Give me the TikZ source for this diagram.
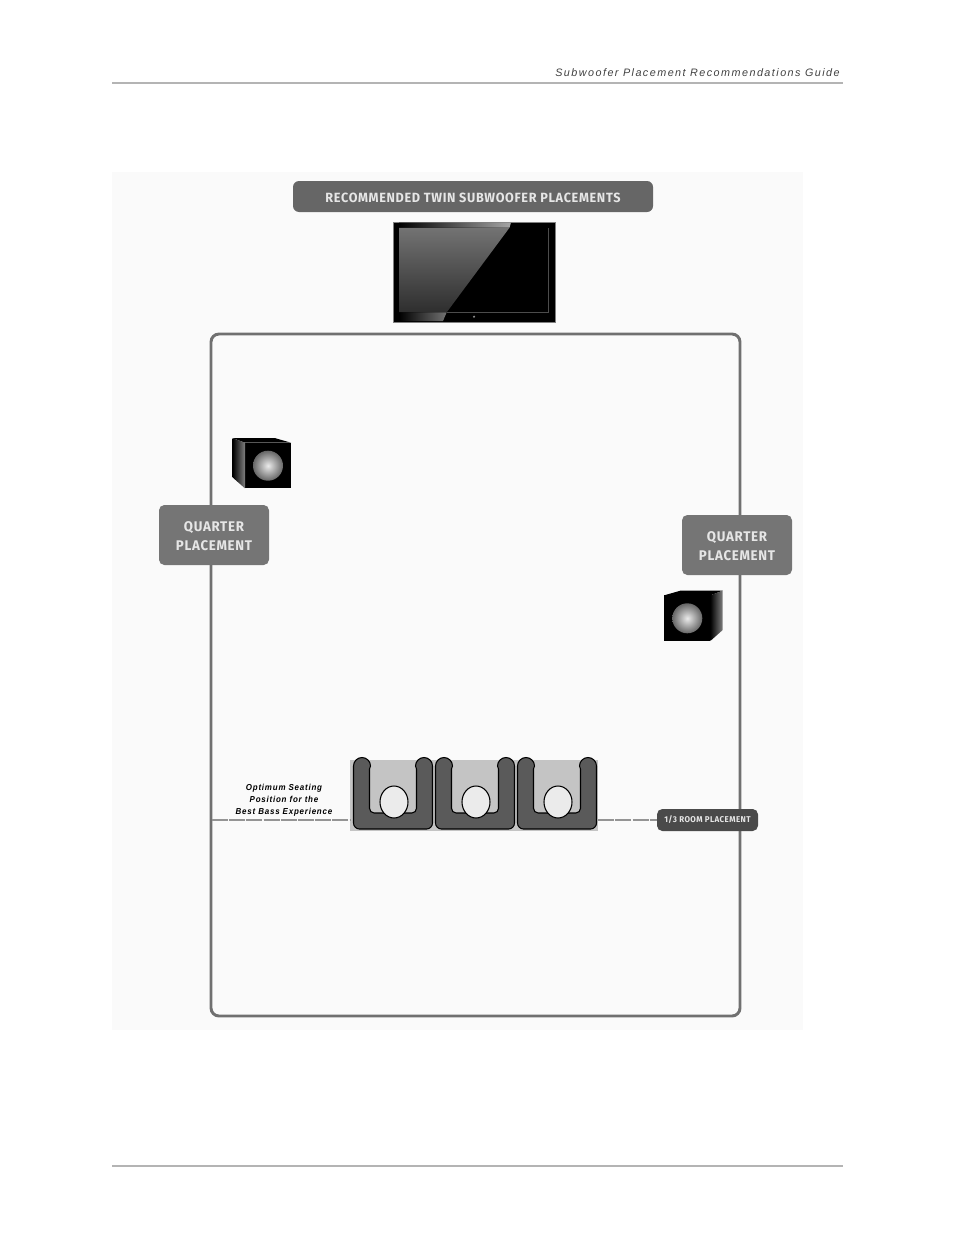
\documentclass[tikz,border=0pt]{standalone}
\usepackage{fontspec}
\setmainfont{Liberation Sans}
\newfontfamily\pagefont[LetterSpace=13.5]{Liberation Sans}
\newfontfamily\pillfont[LetterSpace=5,FakeStretch=0.95]{Fira Sans}
\newfontfamily\notefont[LetterSpace=9,FakeStretch=0.92]{Liberation Sans}
\usetikzlibrary{positioning, shapes.geometric}
\definecolor{panelgray}{HTML}{FAFAFA}
\definecolor{rulegray}{HTML}{B4B4B4}
\definecolor{framegray}{HTML}{707070}
\definecolor{pillgray}{HTML}{757575}
\definecolor{titlegray}{HTML}{666666}
\definecolor{darkpill}{HTML}{4A4A4A}
\definecolor{seatgray}{HTML}{5A5A5A}
\definecolor{rowgray}{HTML}{C4C4C4}
\definecolor{pilltext}{HTML}{E6E6E6}
\newcommand{\lowered}[2]{\raisebox{-#1pt}[\height][\depth]{#2}}
\tikzset{
  room/.style={draw=framegray, line width=2.2pt, rounded corners=6pt, minimum width=396.75pt, minimum height=511.5pt},
  pill/.style={fill=pillgray, text=pilltext, rounded corners=4pt, minimum width=82.5pt, minimum height=45pt, align=center, font=\pillfont\bfseries\fontsize{10.5}{14.2}\selectfont},
  head/.style={ellipse, draw=black, line width=0.8pt, fill=black!8, minimum width=21pt, minimum height=24pt, inner sep=0pt},
  hall/.style={draw=rulegray, line width=1.5pt},
  seat/.pic={
    \draw [line width=0.8pt, fill=seatgray] (-39.5,-36) arc [start angle=180, end angle=360, radius=8.5] -- (-23.5,-33) -- (-23.5,-20) [rounded corners=3.5pt] -- (-23.5,11) -- (23.5,11) -- (23.5,-20) [sharp corners] -- (23.5,-33) -- (22.5,-36) arc [start angle=180, end angle=360, radius=8.5] -- (39.5,-20) [rounded corners=4.5pt] -- (39.5,27) -- (-39.5,27) -- (-39.5,-20) [sharp corners] -- (-39.5,-36);
    \node [head] (-face) at (1,0) {};
  },
  sub/.pic={
    \fill [black] (-23,-23) -- (-7,-27.6) -- (35.4,-27.6) -- (23,-23) -- cycle;
    \fill [black] (-23,-23) rectangle (23,22.7);
    \shade [left color=black, right color=black!50] (23,-23) -- (35.4,-27.6) -- (35.4,11.7) -- (23,22.7) -- cycle;
    \shade [inner color=black!8, outer color=black!60] (0,0) circle [radius=15];
  }
}
\tikzstyle{dashline} = [draw=black!42, line width=0.9pt, dash pattern=on 12pt off 0.9pt]
\begin{document}
\begin{tikzpicture}[x=0.75pt,y=-0.75pt,node distance=61.5pt,every node/.append style={align=center}]
    \useasboundingbox (0,0) rectangle (954,1235);
    \fill [panelgray] (112,172) rectangle (803,1030);
    \node [anchor=east, font=\pagefont\itshape\fontsize{8.1}{10}\selectfont, text=black!75, inner sep=0pt] (guide) at (840,72.5) {Subwoofer Placement Recommendations Guide};
    \coordinate (headl) at (112,83);
    \coordinate (headr) at (843,83);
    \coordinate (footl) at (112,1166);
    \coordinate (footr) at (843,1166);
    \draw [hall] (headl) -- (headr);
    \draw [hall] (footl) -- (footr);
    \node [room] (box) at (475.5,675) {};
    \node [fill=black, draw=black!50, line width=0.4pt, minimum width=121.5pt, minimum height=75pt, inner sep=0pt] (tv) at (474,272.5) {};
    \shade [top color=black!55, bottom color=black!82] (399,227.7) -- (509.5,227.7) -- (446.7,312.3) -- (399,312.3) -- cycle;
    \shade [left color=black, right color=black!35] (399,222.5) -- (511,222.5) -- (509.5,227.7) -- (399,227.7) -- cycle;
    \shade [left color=black, right color=black!55] (399,312.3) -- (446.7,312.3) -- (443,321) -- (399,321) -- cycle;
    \draw [black!70, line width=0.4pt] (446.7,312.3) -- (548.3,312.3) -- (548.3,227.7);
    \fill [black!45] (474,316.7) circle [radius=1.2];
    \node [pill, minimum width=270pt, minimum height=23.25pt, fill=titlegray, font=\pillfont\bfseries\fontsize{10}{11}\selectfont, rounded corners=4.5pt] (title) at (473,196.5) {\lowered{1.2}{RECOMMENDED TWIN SUBWOOFER PLACEMENTS}};
    \pic [xscale=-1] at (268,465.7) {sub};
    \pic at (687.3,618.3) {sub};
    \node [pill] (quartera) at (214,535) {\lowered{0.7}{QUARTER}\\\lowered{0.7}{PLACEMENT}};
    \node [pill] (quarterb) at (737,545) {\lowered{0.7}{QUARTER}\\\lowered{0.7}{PLACEMENT}};
    \node [fill=rowgray, minimum width=186pt, minimum height=53.25pt, inner sep=0pt] (row) at (474,795.5) {};
    \coordinate (seata) at (393,802);
    \coordinate [right of=seata] (seatb);
    \coordinate [right of=seatb] (seatc);
    \pic (one) at (seata) {seat};
    \pic (two) at (seatb) {seat};
    \pic (three) at (seatc) {seat};
    \node [pill, minimum width=75.75pt, minimum height=16.5pt, fill=darkpill, font=\pillfont\bfseries\fontsize{6.3}{7}\selectfont, rounded corners=4pt, inner sep=0pt] (third) at (707.5,820) {1/3 ROOM PLACEMENT};
    \coordinate (wall) at (212,820);
    \draw [dashline] (wall) -- (row.west |- wall);
    \draw [dashline] (row.east |- wall) -- (third);
    \node [font=\notefont\bfseries\itshape\fontsize{6.5}{9}\selectfont, text=black, inner sep=0pt] (best) at (284,800) {Optimum Seating\\Position for the\\Best Bass Experience};
\end{tikzpicture}
\end{document}
